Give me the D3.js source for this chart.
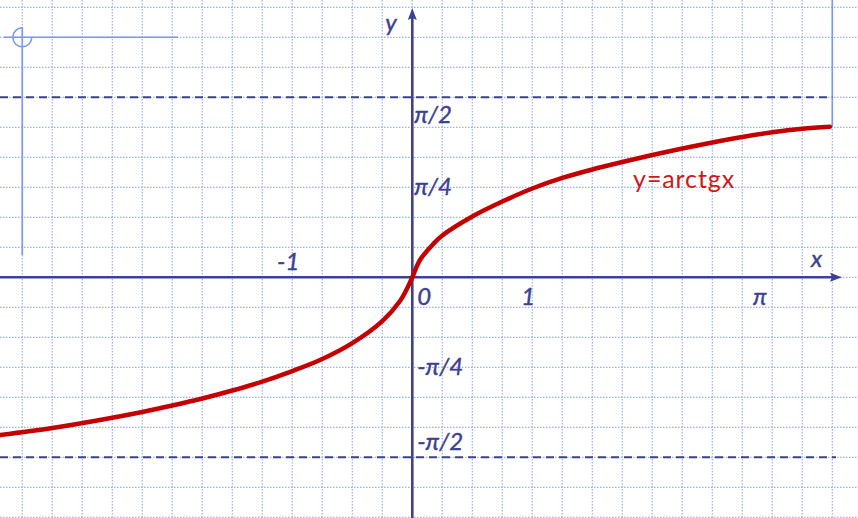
<!DOCTYPE html>
<html>
<head>
<meta charset="utf-8">
<script src="https://cdn.jsdelivr.net/npm/d3@7"></script>
<style>
  html, body { margin: 0; padding: 0; background: #ffffff; }
  svg { display: block; }
</style>
</head>
<body>
<div id="chart"></div>
<script>
// ---- data ----
const curveX = [-3.436, -3.0, -2.603, -2.25, -2.0, -1.75, -1.5, -1.25, -1.0, -0.769, -0.5, -0.25, -0.1025, -0.033, 0,
                0.064, 0.175, 0.25, 0.5, 0.75, 1.0, 1.25, 1.5, 1.75, 2.0, 2.25, 2.5, 2.75, 3.0, 3.25, 3.48];
const curveY = [-1.376, -1.315, -1.245, -1.175, -1.119, -1.058, -0.988, -0.910, -0.818, -0.722, -0.574, -0.382, -0.207, -0.076, 0,
                0.151, 0.291, 0.365, 0.531, 0.661, 0.775, 0.867, 0.941, 1.006, 1.067, 1.124, 1.176, 1.224, 1.265, 1.296, 1.314];
const xTickValues = [-1, 0, 1, 2.93];
const xTickLabels = ["-1", "0", "1", "π"];
const yTickValues = [Math.PI / 2, Math.PI / 4, -Math.PI / 4, -Math.PI / 2];
const yTickLabels = ["π/2", "π/4", "-π/4", "-π/2"];
const asymptotes = [Math.PI / 2, -Math.PI / 2];
const funcLabel = "y=arctgx";
const funcLabelPos = [1.84, 0.78];   // data coords of label start

// ---- layout ----
const W = 858, H = 518;
const svg = d3.select("#chart").append("svg").attr("width", W).attr("height", H);

const x = d3.scaleLinear().domain([-3.4358, 3.7142]).range([0, W]);
const y = d3.scaleLinear().domain([-2.1005, 2.4198]).range([H, 0]);

const navy = "#3d4190";
const gridCol = "#9cb0fa";

// grid (cells of 0.25 in x and π/12 in y)
const g = svg.append("g");
const xs = d3.range(Math.ceil(x.domain()[0] / 0.25), Math.floor(x.domain()[1] / 0.25) + 1).map(k => k * 0.25);
const ys = d3.range(Math.ceil(y.domain()[0] / (Math.PI / 12)), Math.floor(y.domain()[1] / (Math.PI / 12)) + 1).map(k => k * Math.PI / 12);
g.selectAll("line.gx").data(xs).join("line")
  .attr("x1", d => x(d)).attr("x2", d => x(d)).attr("y1", 0).attr("y2", H)
  .attr("stroke", gridCol).attr("stroke-width", 1.2).attr("stroke-dasharray", "1.5,1.5");
g.selectAll("line.gy").data(ys).join("line")
  .attr("y1", d => y(d)).attr("y2", d => y(d)).attr("x1", 0).attr("x2", W)
  .attr("stroke", gridCol).attr("stroke-width", 1.2).attr("stroke-dasharray", "1.5,1.5");

// light blue decorative frame marks
const light = "#7c96f2";
const markY = y(Math.PI * 2 / 3);
svg.append("line").attr("x1", 4).attr("x2", 178).attr("y1", markY).attr("y2", markY)
  .attr("stroke", light).attr("stroke-width", 1.6);
svg.append("line").attr("x1", x(-3.25)).attr("x2", x(-3.25)).attr("y1", 27).attr("y2", 255)
  .attr("stroke", light).attr("stroke-width", 1.6);
svg.append("path")
  .attr("d", d3.arc()({innerRadius: 9.5, outerRadius: 9.5, startAngle: Math.PI / 2, endAngle: 2 * Math.PI}))
  .attr("transform", `translate(${x(-3.25)},${markY})`)
  .attr("fill", "none").attr("stroke", light).attr("stroke-width", 1.6);
svg.append("line").attr("x1", x(3.5)).attr("x2", x(3.5)).attr("y1", 0).attr("y2", 127)
  .attr("stroke", light).attr("stroke-width", 1.6);

// asymptotes
svg.selectAll("line.asym").data(asymptotes).join("line")
  .attr("x1", 0).attr("x2", d => d > 0 ? x(3.5) : 836)
  .attr("y1", d => y(d)).attr("y2", d => y(d))
  .attr("stroke", navy).attr("stroke-width", 2).attr("stroke-dasharray", "8,5");

// axes
svg.append("line").attr("x1", 0).attr("x2", 836).attr("y1", y(0)).attr("y2", y(0))
  .attr("stroke", navy).attr("stroke-width", 2.6);
svg.append("line").attr("x1", x(0)).attr("x2", x(0)).attr("y1", H).attr("y2", 14)
  .attr("stroke", navy).attr("stroke-width", 2.6);
// arrowheads
svg.append("path").attr("d", `M${842},${y(0)} L${830},${y(0) - 4.5} L${832},${y(0)} L${830},${y(0) + 4.5} Z`)
  .attr("fill", navy);
svg.append("path").attr("d", `M${x(0)},${8} L${x(0) - 4.5},${20} L${x(0)},${18} L${x(0) + 4.5},${20} Z`)
  .attr("fill", navy);

// curve
const pts = curveX.map((d, i) => [d, curveY[i]]);
svg.append("path").datum(pts)
  .attr("d", d3.line().x(d => x(d[0])).y(d => y(d[1])).curve(d3.curveCatmullRom.alpha(0.5)))
  .attr("fill", "none").attr("stroke", "#c40000").attr("stroke-width", 4.5).attr("stroke-linecap", "round");

// labels
const font = "Lato, 'Open Sans', sans-serif";
const tl = svg.append("g").attr("font-family", font).attr("font-style", "italic").attr("font-size", 24)
  .attr("fill", navy).attr("stroke", navy).attr("stroke-width", 0.4);
tl.selectAll("text.xt").data(xTickValues).join("text")
  .attr("x", d => d === 0 ? x(d) + 5 : x(d) - 4)
  .attr("y", d => d < 0 ? y(0) - 7 : y(0) + 28)
  .attr("text-anchor", d => d === 0 ? "start" : "middle")
  .text((d, i) => xTickLabels[i]);
tl.selectAll("text.yt").data(yTickValues).join("text")
  .attr("x", d => d > 0 ? x(0) + 2 : x(0) + 5)
  .attr("y", d => Math.abs(d) > 1.5 ? (d > 0 ? y(d) + 26 : y(d) - 7) : y(d) + 8)
  .text((d, i) => yTickLabels[i]);
tl.append("text").attr("x", 811).attr("y", y(0) - 10).text("x");
tl.append("text").attr("x", x(0) - 27).attr("y", 31).text("y");

svg.append("text").attr("x", x(funcLabelPos[0])).attr("y", y(funcLabelPos[1]))
  .attr("font-family", font).attr("font-size", 25).attr("fill", "#cc1a1a")
  .attr("letter-spacing", 0.9)
  .text(funcLabel);
</script>
</body>
</html>
